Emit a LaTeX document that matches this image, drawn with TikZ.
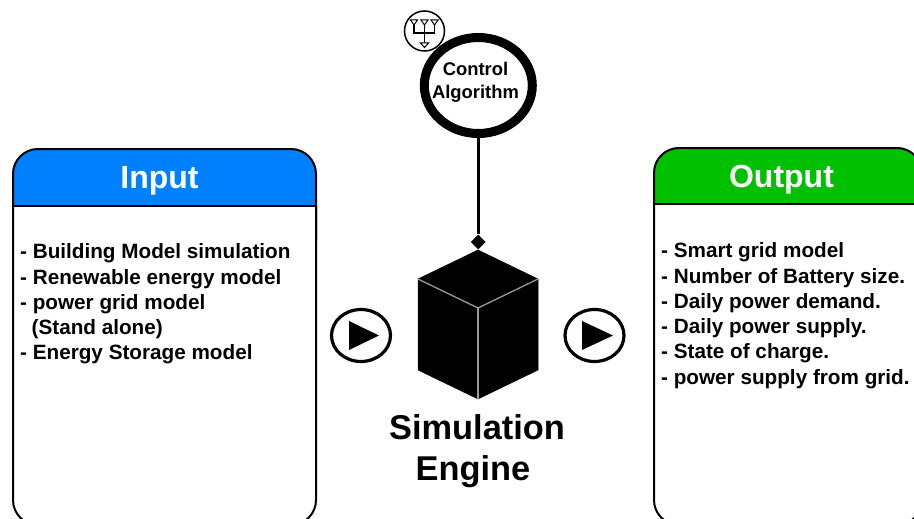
\documentclass[tikz,border=0pt]{standalone}
\usepackage{fontspec}
\setmainfont{Liberation Sans}
\usetikzlibrary{shapes.geometric}
\definecolor{inblue}{HTML}{0080FF}
\definecolor{outgreen}{HTML}{00C000}
\tikzset{
  panel/.style={draw=black,line width=2pt,fill=white,rounded corners=25pt},
  panelhead/.style={draw=black,line width=2pt,rounded corners=25pt},
  headline/.style={draw=black,line width=2pt},
  headtext/.style={text=white,font=\fontsize{32}{36}\selectfont\bfseries,inner sep=0pt},
  bodytext/.style={align=left,anchor=north west,inner sep=0pt,font=\fontsize{20.7}{25.3}\selectfont\bfseries},
  bigtext/.style={font=\fontsize{34.4}{41}\selectfont\bfseries,align=center,inner sep=0pt},
  playring/.style={draw=black,line width=3.2pt,fill=white,ellipse,minimum width=59pt,minimum height=52pt,inner sep=0pt},
  playtri/.style={fill=black},
  cubeface/.style={fill=black,draw=black,line width=.5pt},
  cubeedge/.style={draw=black!40,line width=1.3pt},
  symline/.style={draw=black,line width=1.5pt},
  symtip/.style={draw=black,line width=1pt,fill=white}
}
\begin{document}
\begin{tikzpicture}[x=1pt,y=-1pt]
\useasboundingbox (0,0) rectangle (914,519);
\begin{scope}
\clip (0,0) rectangle (914,519);
% input panel
\draw[panelhead,fill=inblue] (13,240) -- (13,149) -- (316,149) -- (316,240);
\draw[panel] (13,206) -- (13,525) -- (316,525) -- (316,206);
\draw[headline] (13,206) -- (316,206);
\node[headtext] (intitle) at (159.5,181) {Input};
\node[bodytext] (inbody) at (20,243.5) {- Building Model simulation\\- Renewable energy model\\- power grid model\\\ \ (Stand alone)\\- Energy Storage model};
% output panel
\draw[panelhead,fill=outgreen] (654,240) -- (654,148) -- (922,148) -- (922,240);
\draw[panel] (654,204) -- (654,525) -- (922,525) -- (922,204);
\draw[headline] (654,204) -- (922,204);
\node[headtext] (outtitle) at (781.5,179.5) {Output};
\node[bodytext] (outbody) at (661,242.5) {- Smart grid model\\- Number of Battery size.\\- Daily power demand.\\- Daily power supply.\\- State of charge.\\- power supply from grid.};
\end{scope}
% algorithm symbol
\node[circle,draw=black,line width=1.5pt,fill=white,minimum size=40pt,inner sep=0pt] (sym) at (424.5,31) {};
\draw[symline] (414,23) -- (414,33) -- (434.5,33) -- (434.5,23);
\draw[symline] (424.5,23) -- (424.5,43);
\draw[symtip] (410.5,20) -- (417.5,20) -- (414,25) -- cycle;
\draw[symtip] (421,20) -- (428,20) -- (424.5,25) -- cycle;
\draw[symtip] (431,20) -- (438,20) -- (434.5,25) -- cycle;
\draw[symtip] (420.5,43) -- (428.5,43) -- (424.5,47.5) -- cycle;
% control circle
\node[ellipse,draw=black,line width=9pt,fill=white,minimum width=108pt,minimum height=96pt,inner sep=0pt] (algo) at (478.3,85.5) {};
\node[font=\fontsize{18.4}{22.5}\selectfont\bfseries,align=center,inner sep=0pt] (algotext) at (475.5,82.5) {Control\\Algorithm};
% cube
\fill[cubeface] (478,250) -- (538,279) -- (538,370) -- (478,399) -- (418,370) -- (418,279) -- cycle;
\draw[cubeedge] (418,279) -- (478,308) -- (538,279);
\draw[cubeedge] (478,308) -- (478,399);
% connector
\node[diamond,fill=black,minimum size=15pt,inner sep=0pt] (tip) at (478.3,242) {};
\draw[line width=3pt] (algo.south) -- (tip.north);
% play buttons
\node[playring] (playl) at (361,335.5) {};
\fill[playtri] (349,321) -- (379,335.5) -- (349,350) -- cycle;
\node[playring] (playr) at (594.5,335.5) {};
\fill[playtri] (582,321) -- (613,335.5) -- (582,350) -- cycle;
% label
\node[bigtext] (engine) at (477,451.5) {Simulation\\Engine\hspace*{8pt}};
\end{tikzpicture}
\end{document}
